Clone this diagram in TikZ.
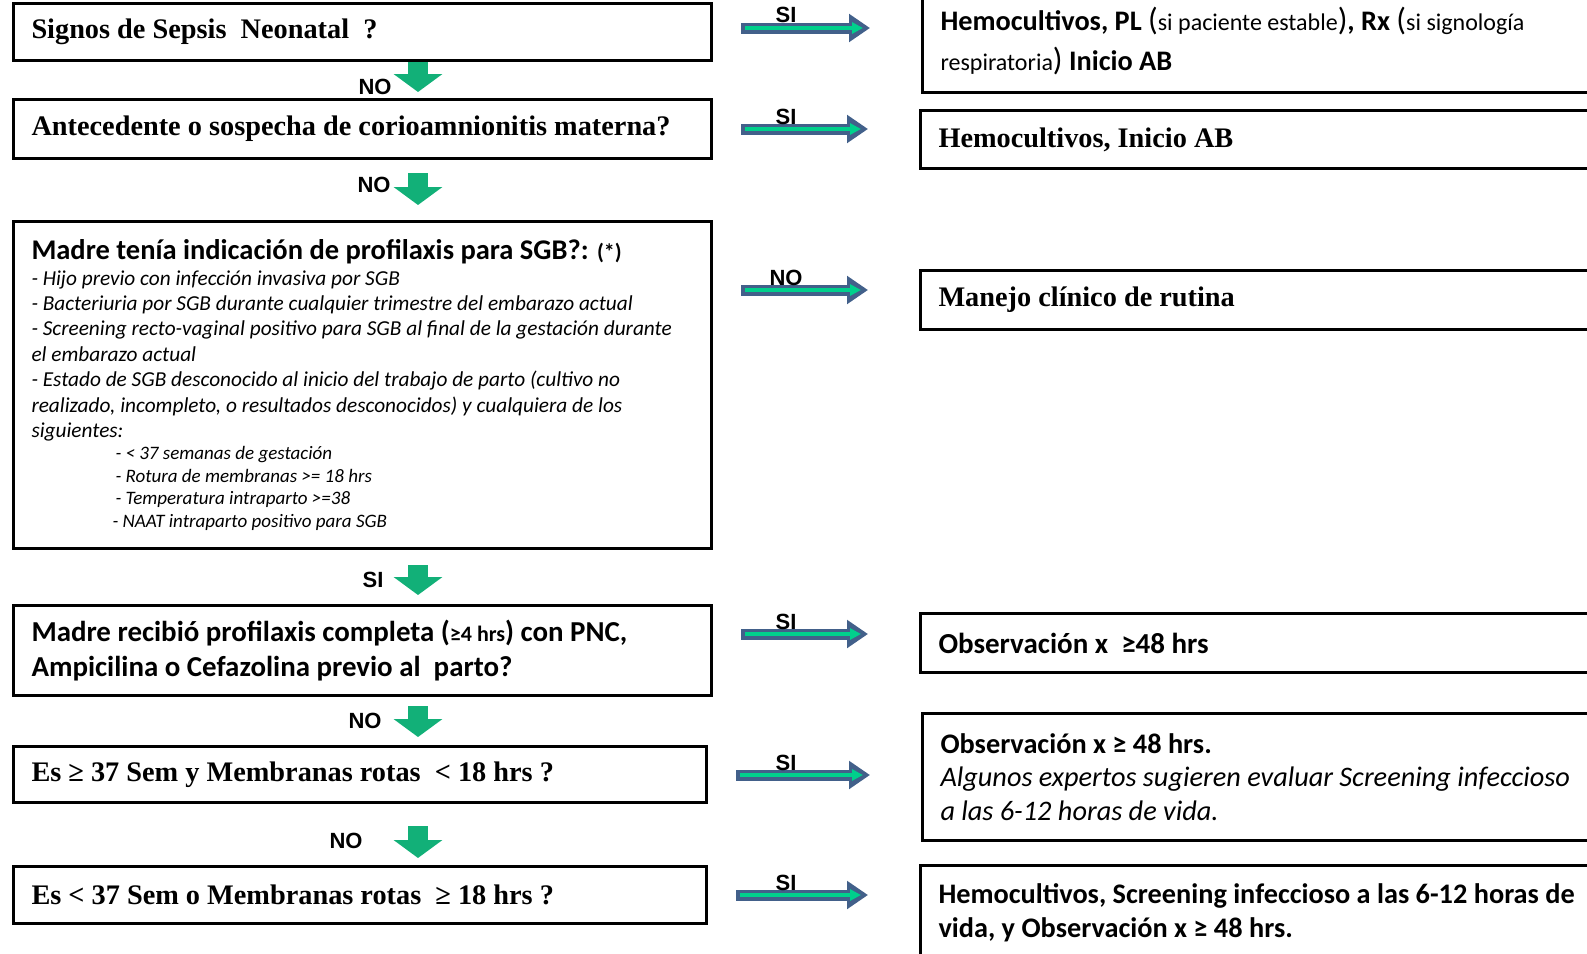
\documentclass[tikz,border=0pt]{standalone}
\usepackage{fontspec}
\setmainfont{Liberation Serif}
\newfontfamily\calfont{Carlito}
\newfontfamily\arifont{Liberation Sans}
\usetikzlibrary{arrows.meta}
\definecolor{dgreen}{RGB}{18,176,120}
\definecolor{lgreen}{RGB}{0,208,140}
\definecolor{slate}{RGB}{66,96,138}
\newcommand\fixsp{\spaceskip=0pt\xspaceskip=0pt\relax}
\newcommand\tb[1]{{\fixsp\bfseries\fontsize{28.3}{32}\selectfont #1}}
\newcommand\sm[1]{{\mdseries\fontsize{24}{30}\selectfont #1}}
\newcommand\bp[1]{{\mdseries\fontsize{32}{30}\selectfont #1}}
\begin{document}
\begin{tikzpicture}[x=1pt,y=-1pt,
  box/.style={draw=black, line width=3pt, rectangle, anchor=north west,
    inner xsep=18pt, inner ysep=0pt, align=left},
  lbl/.style={font=\arifont\bfseries\fontsize{22}{24}\selectfont, inner sep=0pt},
  darr/.style={draw=dgreen, line width=20pt, -{Triangle[width=48pt,length=18pt]}},
  rout/.style={draw=slate, line width=11pt, -{Triangle[width=27pt,length=21pt]}, shorten <=28pt, shorten >=51pt},
  rin/.style={draw=lgreen, line width=4pt, -{Triangle[width=11pt,length=11pt]}, shorten <=32pt, shorten >=58pt}]
\useasboundingbox (0,0) rectangle (1587,953);
\clip (0,0) rectangle (1587,953);

% left column
\node[box, minimum width=698pt, minimum height=57pt, text width=662pt] (b1) at (12,2)
  {\tb{Signos de Sepsis~ Neonatal~ ?}};
\node[box, minimum width=698pt, minimum height=59pt, text width=662pt] (b2) at (12,98)
  {\tb{Antecedente o sospecha de corioamnionitis materna?}};
\node[box, minimum width=698pt, minimum height=327pt, text width=662pt] (b3) at (12,220)
  {\fixsp{\calfont\bfseries\fontsize{28.5}{30}\selectfont Madre tenía indicación de profilaxis para SGB?: {\fontsize{22}{30}\selectfont(*)}\par}
   {\calfont\itshape\fontsize{21.3}{25.4}\selectfont
   - Hijo previo con infección invasiva por SGB\par
   - Bacteriuria por SGB durante cualquier trimestre del embarazo actual\par
   - Screening recto-vaginal positivo para SGB al final de la gestación durante\par
   el embarazo actual\par
   - Estado de SGB desconocido al inicio del trabajo de parto (cultivo no\par
   realizado, incompleto, o resultados desconocidos) y cualquiera de los\par
   siguientes:\par}
   {\calfont\itshape\fontsize{19}{22.4}\selectfont\leftskip=84pt
   - < 37 semanas de gestación\par
   - Rotura de membranas >= 18 hrs\par
   - Temperatura intraparto >=38\par
   \hspace*{-3pt}- NAAT intraparto positivo para SGB\par}};
\node[box, minimum width=698pt, minimum height=90pt, text width=662pt] (b4) at (12,604)
  {\fixsp{\calfont\bfseries\fontsize{28.9}{35}\selectfont Madre recibió profilaxis completa ({\fontsize{22}{35}\selectfont≥4 hrs}) con PNC,\par
   Ampicilina o Cefazolina previo al~ parto?\par}};
\node[box, minimum width=693pt, minimum height=56pt, text width=657pt] (b5) at (12,745)
  {\tb{Es ≥ 37 Sem y Membranas rotas~ < 18 hrs ?}};
\node[box, minimum width=693pt, minimum height=57pt, text width=657pt] (b6) at (12,865)
  {\tb{Es < 37 Sem o Membranas rotas~ ≥ 18 hrs ?}};

% right column
\node[box, minimum width=800pt, minimum height=102pt, text width=764pt] (r1) at (921,-11)
  {\fixsp{\calfont\bfseries\fontsize{28.3}{40}\selectfont Hemocultivos, PL \bp{(}\sm{si paciente estable}\bp{)}, Rx \bp{(}\sm{si signología}\par
   \sm{respiratoria}\bp{)} Inicio AB\par}};
\node[box, minimum width=800pt, minimum height=58pt, text width=764pt] (r2) at (919,109)
  {\tb{Hemocultivos, Inicio AB}};
\node[box, minimum width=800pt, minimum height=59pt, text width=764pt] (r3) at (919,269)
  {\tb{Manejo clínico de rutina}};
\node[box, minimum width=800pt, minimum height=59pt, text width=764pt] (r4) at (919,612)
  {\fixsp{\calfont\bfseries\fontsize{29}{30}\selectfont Observación x~ ≥48 hrs\par}};
\node[box, minimum width=800pt, minimum height=127pt, text width=764pt] (r5) at (921,712)
  {\fixsp{\calfont\bfseries\fontsize{28.3}{33.5}\selectfont Observación x ≥ 48 hrs.\par}
   {\calfont\itshape\fontsize{28.3}{33.5}\selectfont Algunos expertos sugieren evaluar Screening infeccioso\par
   a las 6-12 horas de vida.\par}};
\node[box, minimum width=800pt, minimum height=94pt, text width=764pt] (r6) at (919,864)
  {\fixsp{\calfont\bfseries\fontsize{28.3}{34}\selectfont Hemocultivos, Screening infeccioso a las 6-12 horas de\par
   vida, y Observación x ≥ 48 hrs.\par}};

% down arrows
\draw[darr, shorten >=6pt] (418,0 |- b1.south) -- (418,0 |- b2.north);
\draw[darr, shorten <=13pt, shorten >=15pt] (418,0 |- b2.south) -- (418,0 |- b3.north);
\draw[darr, shorten <=15pt, shorten >=9pt] (418,0 |- b3.south) -- (418,0 |- b4.north);
\draw[darr, shorten <=9pt, shorten >=8pt] (418,0 |- b4.south) -- (418,0 |- b5.north);
\draw[darr, shorten <=22pt, shorten >=7pt] (418,0 |- b5.south) -- (418,0 |- b6.north);
\node[lbl] (n1) at (375,87) {NO};
\node[lbl] (n2) at (374,185) {NO};
\node[lbl] (n3) at (373,580) {SI};
\node[lbl] (n4) at (365,721) {NO};
\node[lbl] (n5) at (346,841) {NO};

% right arrows
\foreach \b/\r/\yy/\t [count=\i] in {b1/r1/28/SI, b2/r2/129/SI, b3/r3/290/NO, b4/r4/634/SI, b5/r5/775/SI, b6/r6/895/SI}{
  \draw[rout] (\b.east |- 0,\yy) -- (\r.west |- 0,\yy);
  \draw[rin] (\b.east |- 0,\yy) -- (\r.west |- 0,\yy);
  \node[lbl, anchor=base] (s\i) at (786,\yy-5) {\t};
}
\end{tikzpicture}
\end{document}
